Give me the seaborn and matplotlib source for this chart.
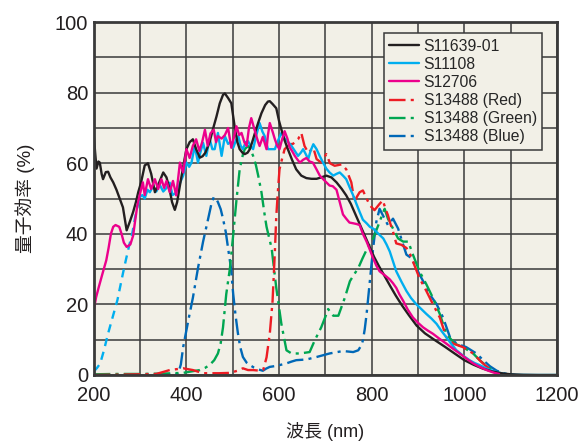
import matplotlib
matplotlib.use("Agg")
import matplotlib.pyplot as plt
import seaborn as sns

# 波長 (nm) と 量子効率 (%)
black_nm = [200, 203, 206, 210, 213, 217, 220, 226, 231, 236, 242, 249, 256, 263, 271, 278, 285, 291, 296, 302,
            310, 317, 324, 332, 341, 350, 357, 363, 369, 375, 380, 386, 393, 400, 407, 414, 421, 429, 435, 441,
            450, 458, 465, 472, 479, 483, 490, 497, 504, 510, 515, 521, 526, 532, 537, 542, 548, 555, 562, 570,
            576, 580, 586, 594, 600, 605, 612, 619, 628, 637, 648, 659, 670, 681, 691, 702, 713, 724, 735, 745,
            755, 765, 775, 785, 795, 805, 815, 828, 840, 852, 865, 880, 897, 915, 935, 958, 980, 1000, 1020,
            1040, 1060, 1080, 1100, 1127, 1160, 1200]
black_qe = [68, 63, 58.5, 60.5, 60.2, 57, 55.5, 57.5, 57.6, 56, 54.6, 52.5, 50, 47.5, 41, 43.5, 46.2, 49, 51.8, 54.5,
            59.4, 60, 57, 51.8, 54.5, 57.4, 56, 53, 49, 46.8, 49, 53.7, 59, 64, 66, 66.8, 64, 61.6, 62, 63,
            66, 70, 73.3, 77, 79.4, 79.8, 78.5, 77, 70.5, 66, 64, 63, 62.6, 63, 64, 66, 68.6, 71.5, 74.2, 76.5,
            77.5, 77.6, 76.8, 75.6, 72, 69.6, 66.5, 64, 61, 58.3, 56.5, 55.8, 55.6, 55.6, 56, 56.5, 56, 54.6, 52.8, 50.9,
            48.5, 45.5, 42.5, 39.5, 36.5, 33.5, 31, 28, 25.2, 22.5, 19.8, 17, 14, 11.8, 10, 8, 6, 4.2, 2.9,
            1.8, 1.0, 0.5, 0.2, 0.05, 0, 0]

cyan_uv_nm = [200, 207, 214, 222, 231, 241, 251, 257, 263, 270, 277, 283, 289, 295, 300]
cyan_uv_qe = [1, 2, 3.3, 7, 11.8, 16.5, 21.2, 25, 28.8, 33, 37, 40, 44.5, 48, 50.5]
cyan_nm = [300, 305, 310, 316, 321, 328, 335, 342, 350, 357, 364, 370, 376, 382, 388, 393, 400, 406, 411, 418,
           425, 430, 436, 443, 450, 456, 461, 468, 476, 483, 490, 495, 501, 507, 512, 517, 522, 528, 533, 538,
           544, 551, 558, 564, 569, 576, 584, 591, 598, 605, 612, 620, 627, 634, 641, 647, 652, 658, 663, 668,
           674, 681, 688, 695, 702, 709, 717, 724, 731, 738, 745, 753, 760, 767, 774, 781, 789, 796, 803, 810,
           817, 825, 832, 839, 846, 853, 864, 875, 885, 896, 907, 918, 929, 940, 950, 961, 972, 983, 997,
           1011, 1022, 1033, 1050, 1070, 1091, 1110, 1150, 1200]
cyan_qe = [50.5, 51, 50, 52.5, 51.8, 53.5, 52, 54, 52, 53, 54.5, 51, 51.5, 53, 55, 56.5, 60.2, 59, 60.2, 64.9,
           60.2, 63, 65.8, 62.1, 67, 64, 64, 68.6, 62.1, 67.7, 65.5, 66, 64.4, 66.5, 67.7, 65, 64, 66, 66.3, 65,
           64, 68, 71.4, 69, 67.7, 64, 64, 64, 66.5, 68.6, 67, 66, 64.9, 63.5, 62.1, 63, 64, 62.5, 61.2, 63.5,
           65.4, 64, 62, 60.2, 58.5, 57.4, 56.5, 57, 57.4, 56.5, 55.5, 53, 50.9, 48.5, 46.2, 44, 43, 42, 41.5, 40.6,
           39.7, 38.7, 37, 35, 32.2, 29.4, 26.5, 23.8, 21.8, 20.1, 18.7, 17.3, 16, 14.5, 12.6, 10.7, 8.8, 7, 5.5,
           4.2, 3.4, 2.8, 1.7, 0.8, 0.2, 0.05, 0, 0]

magenta_nm = [200, 205, 211, 219, 227, 232, 237, 242, 247, 255, 260, 265, 271, 279, 285, 289, 294, 299, 306, 310,
              317, 324, 332, 339, 346, 352, 357, 364, 371, 378, 386, 393, 400, 407, 414, 421, 428, 434, 440, 446,
              452, 459, 464, 468, 476, 483, 490, 497, 502, 508, 514, 519, 525, 530, 535, 540, 546, 551, 555, 558,
              565, 573, 576, 580, 586, 591, 596, 601, 606, 612, 618, 623, 628, 634, 640, 645, 652, 659, 666, 673,
              680, 688, 699, 709, 716, 724, 731, 738, 745, 752, 760, 767, 774, 781, 789, 796, 803, 810, 817, 828,
              839, 846, 853, 860, 868, 878, 889, 900, 911, 921, 932, 946, 961, 975, 990, 1005, 1019, 1033, 1050,
              1065, 1075]
magenta_qe = [18.4, 22, 25, 28.8, 32.5, 36, 40, 42, 42.5, 42, 40, 37.5, 36.3, 37, 39.5, 43.4, 48, 50.9, 54.6, 51,
              55.5, 52.7, 55.5, 52.7, 55.5, 53, 55, 51.8, 55, 50.9, 60.2, 57.4, 64, 61.5, 65, 66.8, 63.5, 66, 69.5, 65,
              68.5, 69.5, 66, 67.7, 67, 68, 70, 64.4, 67, 70.5, 68, 68.6, 66, 64.9, 70, 72.8, 70, 67.7, 66, 64.9,
              67.5, 64, 68, 71.4, 69, 66.8, 65, 64, 66.5, 69.1, 67, 64.5, 63.5, 62.1, 61, 60.2, 61, 61.5, 60.5, 60.2,
              58.5, 56.5, 55, 53.7, 53.5, 52.5, 49, 45.5, 44.3, 43.2, 43, 42.8, 42.5, 40, 37.8, 35.5, 33.1, 31, 29.4, 28.3,
              27.1, 26, 24.7, 22.8, 21, 18.5, 16.3, 14.8, 13.5, 12.6, 11.7, 10.3, 8.9, 7.5, 6.1, 4.6, 3.3, 2.3, 1.3,
              0.6, 0.3]

red_nm = [200, 300, 335, 364, 393, 414, 436, 470, 494, 510, 522, 533, 544, 560, 566, 573, 580, 586, 591, 594,
          598, 601, 606, 612, 623, 630, 641, 648, 655, 663, 674, 681, 691, 702, 710, 720, 728, 735, 745, 756,
          763, 768, 774, 781, 789, 796, 806, 817, 824, 830, 835, 840, 846, 853, 864, 875, 882, 889, 903, 918,
          932, 947, 961, 976, 997, 1008, 1019, 1033, 1045, 1060, 1076, 1090]
red_qe = [0, 0.2, 0.3, 1.4, 1.9, 1.4, 0.5, 0.5, 0.6, 1.2, 1.9, 1.4, 1.4, 1.2, 1.5, 5, 11.7, 21, 35, 45,
          53, 58.3, 61, 64, 65.4, 65.5, 66.8, 68.6, 64.9, 63, 64.4, 61.2, 60.2, 62.6, 60, 59.3, 59.5, 59.7, 58.3, 54.6,
          49, 50.5, 51.8, 52.3, 50, 48.1, 46.7, 48.5, 49.5, 47, 45.3, 43, 40.6, 37.3, 36.9, 36, 34.5, 32.2, 27.5, 23.8,
          20.1, 16.3, 10.7, 8.9, 7.9, 7, 6.1, 4.2, 2.7, 1.3, 0.3, 0]

green_nm = [200, 250, 300, 350, 371, 393, 410, 429, 440, 450, 460, 468, 474, 479, 486, 494, 501, 508, 515, 522,
            526, 533, 538, 544, 550, 555, 562, 569, 573, 584, 594, 605, 616, 627, 645, 666, 677, 691, 700, 706,
            712, 717, 728, 742, 753, 762, 771, 780, 789, 803, 810, 817, 823, 828, 835, 846, 857, 868, 879, 889,
            903, 918, 932, 947, 961, 979, 997, 1008, 1019, 1033, 1050, 1065, 1080, 1095]
green_qe = [0.2, 0.3, 0.3, 0.4, 0.5, 0.6, 1, 1.4, 2, 2.8, 4.2, 6.1, 9, 13.5, 22.9, 30.3, 39.7, 49.5, 58.3, 62.5,
            64, 64.9, 64, 62.1, 59.5, 56.5, 51.8, 45.3, 42, 35.9, 24.7, 14.5, 7, 6.1, 6.1, 6.5, 9.8, 13.5, 16.5, 18.7,
            17.5, 16.8, 16.8, 21.9, 26.6, 28.5, 30.3, 33, 35.5, 38.7, 41, 43.4, 45.5, 47.1, 44.3, 41.5, 38.7, 37.8, 37.8, 34.1,
            29.4, 25.7, 21.9, 17.3, 11.7, 8.9, 7.9, 7, 6.1, 4.2, 2.3, 1, 0.3, 0]

blue_nm = [200, 300, 370, 382, 388, 393, 404, 414, 425, 436, 447, 454, 459, 464, 468, 474, 479, 485, 490, 496,
           501, 506, 511, 516, 522, 530, 537, 546, 555, 565, 572, 580, 590, 601, 616, 627, 637, 659, 681, 709,
           738, 760, 771, 778, 781, 785, 789, 796, 803, 810, 817, 824, 835, 846, 857, 868, 875, 886, 896, 911,
           925, 940, 954, 969, 983, 1004, 1015, 1026, 1040, 1055, 1070, 1085, 1098, 1110]
blue_qe = [0, 0, 0.2, 0.3, 3, 7.9, 15.4, 21.9, 30.3, 37.8, 44.3, 48.5, 50.4, 50, 49, 47, 44.3, 40.5, 35.9, 30.5,
           23, 17, 12, 8, 5.1, 3.5, 2.8, 2.1, 1.6, 1.2, 1.8, 2.3, 2.5, 2.8, 3.3, 3.8, 4.2, 4.4, 5.1, 6.1,
           6.8, 6.5, 7, 8.5, 9.8, 13, 17.3, 26.6, 35.9, 43.4, 47.1, 45.3, 42.5, 44.3, 41.5, 36.9, 34.1, 33.1, 30.3, 26.6,
           22.9, 20.1, 16.3, 10.7, 8.9, 7.9, 7, 6.1, 4.3, 2.5, 1.2, 0.5, 0.1, 0]

labels = ["S11639-01", "S11108", "S12706", "S13488 (Red)", "S13488 (Green)", "S13488 (Blue)"]
colors = ["#231f20", "#00aeef", "#ec008c", "#ed1c24", "#00a651", "#0068b7"]
dashdot = (0, (7, 2.2, 1.3, 2.2))

sns.set_theme(style="white")
plt.rcParams["font.family"] = ["Liberation Sans", "Noto Sans CJK JP"]

fig, ax = plt.subplots(figsize=(5.86, 4.43), dpi=100)
fig.subplots_adjust(left=0.160, right=0.9505, top=0.950, bottom=0.1535)
ax.set_facecolor("#f2f0e7")

# 順番: 後ろから前へ
sns.lineplot(x=blue_nm, y=blue_qe, ax=ax, color=colors[5], lw=1.7, linestyle=dashdot,
             sort=False, estimator=None, label=labels[5])
sns.lineplot(x=green_nm, y=green_qe, ax=ax, color=colors[4], lw=1.7, linestyle=dashdot,
             sort=False, estimator=None, label=labels[4])
sns.lineplot(x=red_nm, y=red_qe, ax=ax, color=colors[3], lw=1.7, linestyle=dashdot,
             sort=False, estimator=None, label=labels[3])
sns.lineplot(x=cyan_uv_nm, y=cyan_uv_qe, ax=ax, color=colors[1], lw=1.7, linestyle=(0, (3.5, 2.5)),
             sort=False, estimator=None)
sns.lineplot(x=cyan_nm, y=cyan_qe, ax=ax, color=colors[1], lw=1.7,
             sort=False, estimator=None, label=labels[1])
sns.lineplot(x=black_nm, y=black_qe, ax=ax, color=colors[0], lw=1.7,
             sort=False, estimator=None, label=labels[0])
sns.lineplot(x=magenta_nm, y=magenta_qe, ax=ax, color=colors[2], lw=1.7,
             sort=False, estimator=None, label=labels[2])

ax.set_xlim(200, 1200)
ax.set_ylim(0, 100)
ax.set_xticks(range(200, 1201, 200))
ax.set_xticks(range(300, 1200, 200), minor=True)
ax.set_yticks(range(0, 101, 20))
ax.set_yticks(range(10, 100, 20), minor=True)
ax.grid(which="both", color="#3a3a3a", lw=1.1)
ax.set_axisbelow(True)
ax.tick_params(which="both", length=0, labelsize=14.5, colors="#231f20")
ax.tick_params(axis="x", pad=8)
ax.tick_params(axis="y", pad=4)
for s in ax.spines.values():
    s.set_color("#3a3a3a")
    s.set_linewidth(2)

ax.set_xlabel("波長 (nm)", fontsize=13, labelpad=12, color="#231f20")
ax.set_ylabel("量子効率 (%)", fontsize=13.5, labelpad=14, color="#231f20")

handles, labs = ax.get_legend_handles_labels()
order = [labs.index(l) for l in labels]
leg = ax.legend([handles[i] for i in order], [labs[i] for i in order],
                loc="upper right", bbox_to_anchor=(0.968, 0.969), borderaxespad=0,
                fontsize=11.3, handlelength=1.9, handletextpad=0.3, labelspacing=0.2,
                fancybox=False, frameon=True, borderpad=0.35)
leg.get_frame().set_edgecolor("#3a3a3a")
leg.get_frame().set_facecolor("#f2f0e7")
leg.get_frame().set_linewidth(1.1)
leg.get_frame().set_alpha(1)

fig.savefig("out.png", dpi=100)
